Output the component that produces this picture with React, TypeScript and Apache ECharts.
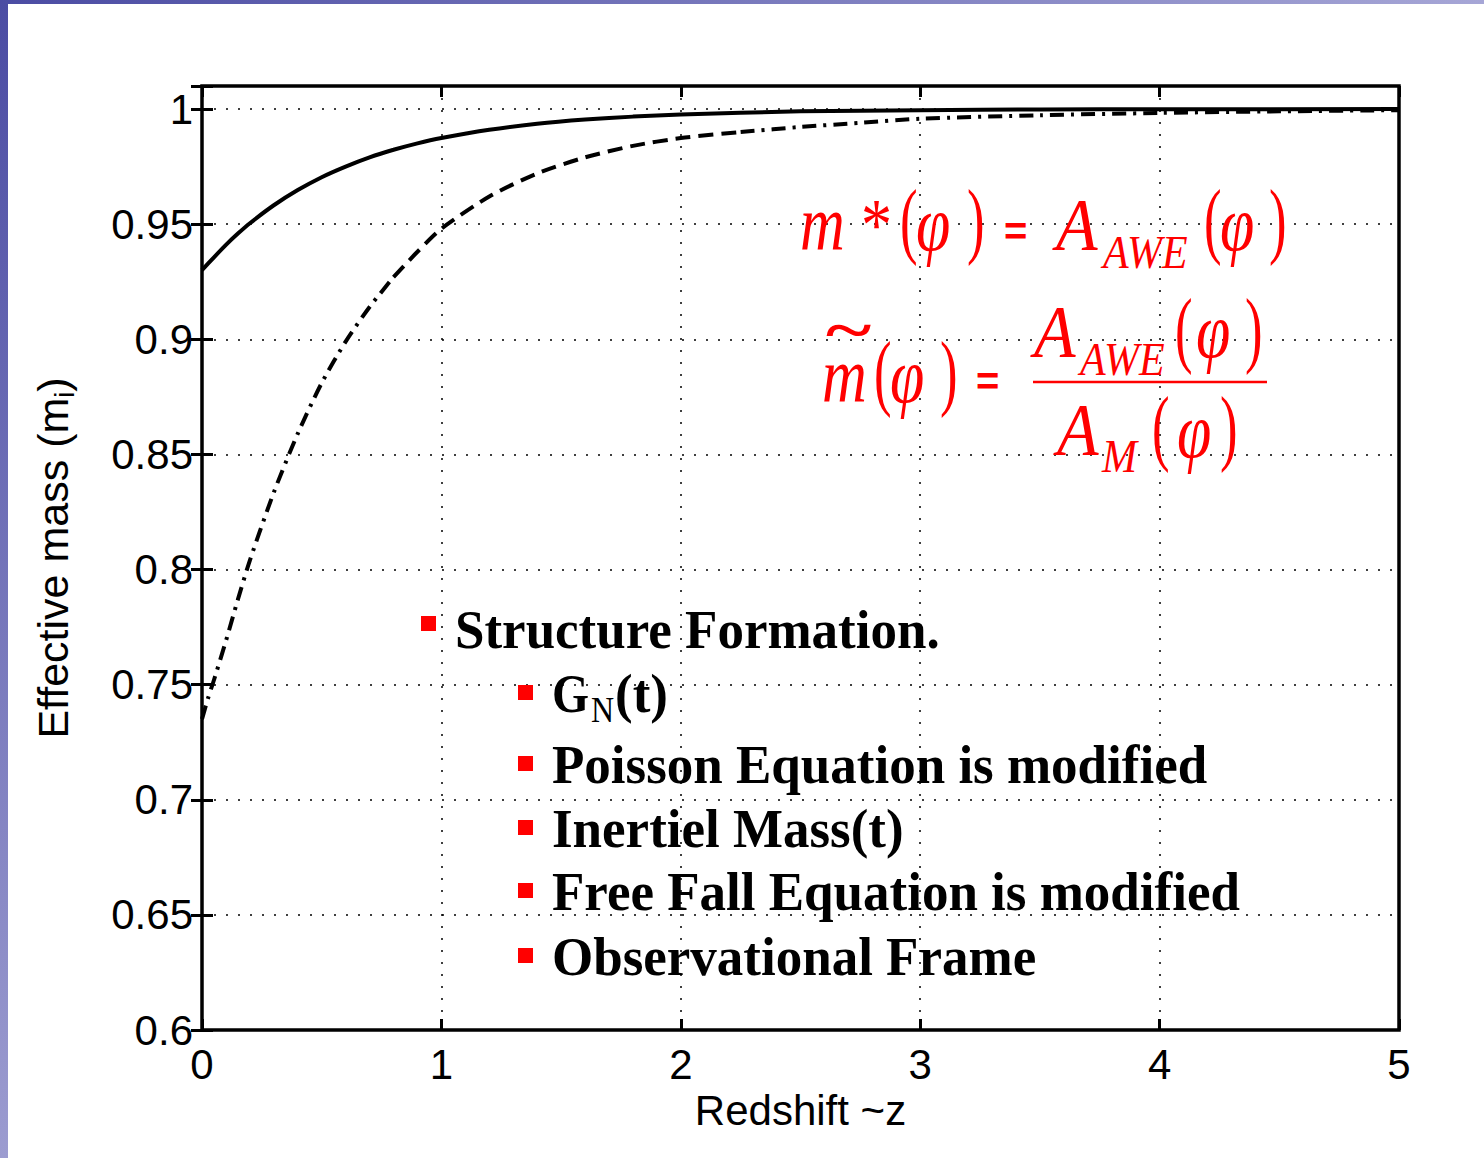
import React, { useEffect, useRef } from 'react';
import * as echarts from 'echarts';

const SANS = "'Liberation Sans', Arial, Helvetica, sans-serif";
const SERIF = "'Liberation Serif', 'Times New Roman', serif";

// Axis ticks
const xTicks = [0, 1, 2, 3, 4, 5];
const yTicks = [0.6, 0.65, 0.7, 0.75, 0.8, 0.85, 0.9, 0.95, 1];

// Solid curve
const zSolid = [0, 0.05, 0.1, 0.15, 0.2, 0.3, 0.4, 0.5, 0.6, 0.7, 0.8, 0.9, 1.0, 1.2, 1.4, 1.6, 1.8, 2.0, 2.5, 3.0, 3.5, 4.0, 5.0];
const mSolid = [0.930, 0.9356, 0.941, 0.9459, 0.9504, 0.9582, 0.9648, 0.9704, 0.975, 0.979, 0.9823, 0.9851, 0.9874, 0.991, 0.9936, 0.9954, 0.9967, 0.9976, 0.999, 0.9995, 0.9998, 0.9999, 1.0];

// Dashed / dash-dot curve
const zDashed = [0, 0.025, 0.05, 0.1, 0.15, 0.2, 0.3, 0.4, 0.5, 0.6, 0.7, 0.8, 0.9, 1.0, 1.2, 1.4, 1.6, 1.8, 2.0, 2.25, 2.5, 2.75, 3.0, 3.5, 4.0, 4.5, 5.0];
const mDashed = [0.735, 0.744, 0.752, 0.769, 0.787, 0.804, 0.8335, 0.859, 0.881, 0.899, 0.914, 0.927, 0.938, 0.948, 0.962, 0.972, 0.979, 0.984, 0.9874, 0.990, 0.9922, 0.994, 0.9958, 0.9973, 0.9983, 0.999, 0.9995];
// where the drawn pattern switches (dash-dot -> dashed -> dash-dot)
const dashBreaks = [0.8, 2.25];

const xTitle = 'Redshift ~z';
const yTitle = 'Effective mass (m{sub|i})';

const mainBullet = 'Structure Formation.';
const subBullets = ['', 'Poisson Equation is modified', 'Inertiel Mass(t)', 'Free Fall Equation is modified', 'Observational Frame'];

type GOpts = { italic?: boolean; bold?: boolean; sx?: number; sy?: number; fill?: string; family?: string };

function glyph(text: string, x: number, baseline: number, fs: number, o: GOpts = {}) {
  const sy = o.sy ?? 1;
  const sx = o.sx ?? 1;
  const family = o.family ?? SERIF;
  const k = family === SANS ? 0.3465 : 0.3375;
  return {
    type: 'text',
    x,
    y: baseline - k * fs * sy,
    scaleX: sx,
    scaleY: sy,
    z: 100,
    style: {
      text,
      fill: o.fill ?? '#ff0000',
      fontSize: fs,
      fontFamily: family,
      fontStyle: o.italic ? 'italic' : 'normal',
      fontWeight: o.bold ? 'bold' : 'normal',
      align: 'left',
      verticalAlign: 'middle',
    },
  };
}

const RED = '#ff0000';
const it = (t: string, x: number, b: number, fs = 62, sy = 1.25) => glyph(t, x, b, fs, { italic: true, sy });
const paren = (t: string, x: number, b: number) => glyph(t, x, b, 62, { sy: 1.35, sx: 0.85 });
const eqSign = (x: number, cy: number) => ({
  type: 'text', x, y: cy, z: 100,
  style: { text: '=', fill: RED, fontSize: 40, fontFamily: SANS, fontWeight: 'bold', align: 'left', verticalAlign: 'middle' },
});
const tilde = (x: number, cy: number) => ({
  type: 'text', x, y: cy, scaleX: 1.45, z: 100,
  style: { text: '~', fill: RED, fontSize: 60, fontFamily: SERIF, fontStyle: 'italic', fontWeight: 'bold', align: 'left', verticalAlign: 'middle' },
});

function buildGraphics() {
  const g: any[] = [];
  // slide decoration
  g.push({
    type: 'rect', shape: { x: 0, y: 0, width: 8, height: 1158 }, z: 0,
    style: { fill: new echarts.graphic.LinearGradient(0, 0, 0, 1, [{ offset: 0, color: '#4b4ca3' }, { offset: 1, color: '#9c9cd0' }]) },
  });
  g.push({
    type: 'rect', shape: { x: 0, y: 0, width: 1484, height: 4 }, z: 0,
    style: { fill: new echarts.graphic.LinearGradient(0, 0, 1, 0, [{ offset: 0, color: '#4b4ca3' }, { offset: 1, color: '#a6a6d6' }]) },
  });

  // Equation 1: m*(phi) = A_AWE(phi)
  g.push(it('m', 800, 250));
  g.push(glyph('*', 861, 250, 62, { sy: 1.2 }));
  g.push(paren('(', 900, 248));
  g.push(it('φ', 916, 250));
  g.push(paren(')', 967, 248));
  g.push(eqSign(1004, 231));
  g.push(it('A', 1056, 250, 68, 1.1));
  g.push(it('AWE', 1103, 268, 42, 1.1));
  g.push(paren('(', 1204, 248));
  g.push(it('φ', 1220, 250));
  g.push(paren(')', 1269, 248));

  // Equation 2: m~(phi) = A_AWE(phi) / A_M(phi)
  g.push(it('m', 822, 402));
  g.push(tilde(823, 330));
  g.push(paren('(', 874, 400));
  g.push(it('φ', 890, 402));
  g.push(paren(')', 940, 400));
  g.push(eqSign(976, 381));
  g.push({ type: 'line', z: 100, shape: { x1: 1033, y1: 382, x2: 1267, y2: 382 }, style: { stroke: RED, lineWidth: 2.5 } });
  g.push(it('A', 1034, 357, 68, 1.1));
  g.push(it('AWE', 1080, 375, 42, 1.1));
  g.push(paren('(', 1175, 357));
  g.push(it('φ', 1196, 357));
  g.push(paren(')', 1245, 357));
  g.push(it('A', 1057, 455, 68, 1.1));
  g.push(it('M', 1102, 472, 42, 1.1));
  g.push(paren('(', 1152, 455));
  g.push(it('φ', 1177, 457));
  g.push(paren(')', 1220, 455));

  // Bullet list
  const BFS = 53;
  const BSY = 1.05;
  g.push({ type: 'rect', z: 100, shape: { x: 421, y: 616, width: 15, height: 15 }, style: { fill: RED } });
  g.push(glyph(mainBullet, 455, 648, BFS, { bold: true, fill: '#000', sy: BSY }));
  const subBaselines = [712, 783, 847, 910, 975];
  subBaselines.forEach((b, i) => {
    g.push({ type: 'rect', z: 100, shape: { x: 518, y: b - 27, width: 15, height: 15 }, style: { fill: RED } });
    if (i === 0) {
      g.push(glyph('G', 552, b, BFS, { bold: true, fill: '#000', sy: BSY, sx: 0.9 }));
      g.push(glyph('N', 591, b + 10, 32, { fill: '#000', sy: 1.1 }));
      g.push(glyph('(t)', 615, b, BFS, { bold: true, fill: '#000', sy: BSY }));
    } else {
      g.push(glyph(subBullets[i], 552, b, BFS, { bold: true, fill: '#000', sy: BSY }));
    }
  });
  return g;
}

function segment(lo: number, hi: number) {
  const out: number[][] = [];
  zDashed.forEach((z, i) => {
    if (z >= lo - 1e-9 && z <= hi + 1e-9) out.push([z, mDashed[i]]);
  });
  return out;
}

export default function App() {
  const ref = useRef<HTMLDivElement>(null);
  useEffect(() => {
    if (!ref.current) return;
    const chart = echarts.init(ref.current, null, { renderer: 'svg' });
    const dotted = { color: '#000', width: 1.5, type: [2, 10] as number[] };
    const tick = { show: true, inside: true, length: 11, lineStyle: { color: '#000', width: 3 } };
    const dashDot = [14, 7, 3, 7];
    const LW = 4;
    const SM = 0.25;
    const option: any = {
      animation: false,
      backgroundColor: '#ffffff',
      grid: {
        left: 202, top: 86, right: 85, bottom: 128,
        show: true, borderColor: '#000', borderWidth: 3.5, backgroundColor: 'transparent',
      },
      xAxis: [
        {
          type: 'value', min: xTicks[0], max: xTicks[xTicks.length - 1], interval: 1, position: 'bottom',
          axisLine: { show: false },
          axisTick: tick,
          axisLabel: { fontSize: 42, color: '#000', fontFamily: SANS, margin: 13 },
          splitLine: { show: true, lineStyle: dotted },
          name: xTitle, nameLocation: 'middle', nameGap: 57,
          nameTextStyle: { fontSize: 42, color: '#000', fontFamily: SANS },
        },
        {
          type: 'value', min: xTicks[0], max: xTicks[xTicks.length - 1], interval: 1, position: 'top',
          axisLine: { show: false }, axisTick: tick, axisLabel: { show: false }, splitLine: { show: false },
        },
      ],
      yAxis: [
        {
          type: 'value', min: 0.6, max: 1.01, interval: 0.05, position: 'left',
          axisLine: { show: false },
          axisTick: tick,
          axisLabel: {
            fontSize: 42, color: '#000', fontFamily: SANS, margin: 9,
            formatter: (v: number) => {
              const hit = yTicks.find((t) => Math.abs(t - v) < 1e-6);
              return hit === undefined ? '' : String(hit);
            },
          },
          splitLine: { show: true, lineStyle: dotted },
          name: yTitle, nameLocation: 'middle', nameGap: 124,
          nameTextStyle: {
            fontSize: 43, color: '#000', fontFamily: SANS,
            rich: { sub: { fontSize: 27, color: '#000', fontFamily: SANS, padding: [24, 0, 0, 0] } },
          },
        },
        {
          type: 'value', min: 0.6, max: 1.01, interval: 0.05, position: 'right',
          axisLine: { show: false }, axisTick: tick, axisLabel: { show: false }, splitLine: { show: false },
        },
      ],
      series: [
        {
          type: 'line', xAxisIndex: 0, yAxisIndex: 0, showSymbol: false, smooth: SM,
          data: zSolid.map((z, i) => [z, mSolid[i]]),
          lineStyle: { color: '#000', width: LW },
        },
        {
          type: 'line', xAxisIndex: 0, yAxisIndex: 0, showSymbol: false, smooth: SM,
          data: segment(0, dashBreaks[0]),
          lineStyle: { color: '#000', width: LW, type: dashDot },
        },
        {
          type: 'line', xAxisIndex: 0, yAxisIndex: 0, showSymbol: false, smooth: SM,
          data: segment(dashBreaks[0], dashBreaks[1]),
          lineStyle: { color: '#000', width: LW, type: [15, 8] },
        },
        {
          type: 'line', xAxisIndex: 0, yAxisIndex: 0, showSymbol: false, smooth: SM,
          data: segment(dashBreaks[1], 5),
          lineStyle: { color: '#000', width: LW, type: dashDot },
        },
      ],
      graphic: buildGraphics(),
    };
    chart.setOption(option);
    return () => chart.dispose();
  }, []);
  return (
    <div style={{ position: 'fixed', left: 0, top: 0, width: 1484, height: 1158, background: '#fff' }}>
      <div ref={ref} style={{ width: 1484, height: 1158 }} />
    </div>
  );
}
